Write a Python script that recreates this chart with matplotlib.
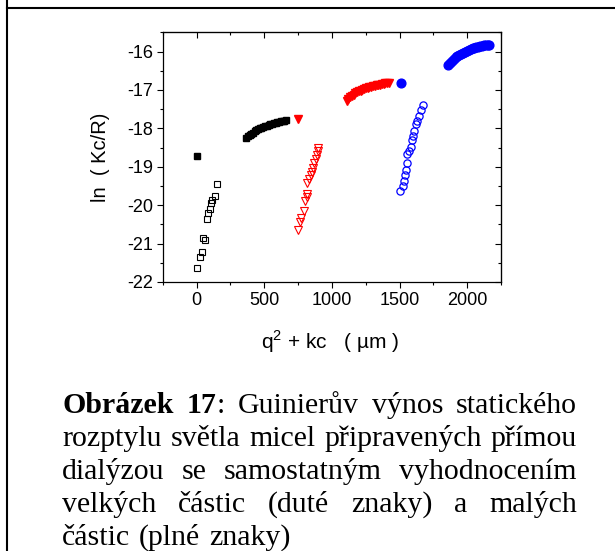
import matplotlib
matplotlib.use("Agg")
import matplotlib.pyplot as plt
from matplotlib.lines import Line2D
from matplotlib.ticker import MultipleLocator

plt.rcParams['axes.unicode_minus'] = False
plt.rcParams['font.family'] = 'Liberation Sans'

# velke castice (prazdne znaky)
big1_x = [0, 24, 42, 49, 64, 76, 86, 96, 108, 118, 138, 153]
big1_y = [-21.64, -21.36, -21.21, -20.86, -20.90, -20.36, -20.21, -20.10, -19.95, -19.86, -19.77, -19.46]
big2_x = [749, 764, 774, 791, 798, 813, 818, 820, 833, 845, 852, 862, 870, 880, 892, 897, 899]
big2_y = [-20.64, -20.43, -20.34, -20.15, -19.90, -19.79, -19.71, -19.42, -19.31, -19.21, -19.14,
          -19.03, -18.90, -18.81, -18.70, -18.60, -18.51]
big3_x = [1505, 1528, 1535, 1542, 1547, 1552, 1559, 1569, 1582, 1589, 1599, 1609, 1619, 1631,
          1643, 1656, 1673]
big3_y = [-19.62, -19.49, -19.38, -19.22, -19.08, -18.91, -18.67, -18.59, -18.49, -18.31, -18.20,
          -18.08, -17.90, -17.80, -17.67, -17.53, -17.40]

# male castice (plne znaky)
small1_x = [0, 367, 380, 392, 405, 418, 430, 442, 455, 468, 480, 493, 506, 519, 532, 545, 558,
            571, 584, 597, 610, 623, 636, 649, 658]
small1_y = [-18.71, -18.25, -18.21, -18.17, -18.14, -18.11, -18.08, -18.05, -18.03, -18.00, -17.98,
            -17.96, -17.94, -17.93, -17.91, -17.90, -17.88, -17.87, -17.86, -17.84, -17.83, -17.82,
            -17.81, -17.80, -17.79]
small2_x = [749, 1109, 1122, 1135, 1148, 1161, 1174, 1187, 1200, 1213, 1226, 1239, 1252, 1265,
            1278, 1291, 1304, 1317, 1330, 1343, 1356, 1369, 1382, 1395, 1408, 1421]
small2_y = [-17.75, -17.29, -17.24, -17.19, -17.15, -17.12, -17.09, -17.06, -17.04, -17.02, -17.00,
            -16.98, -16.96, -16.95, -16.93, -16.92, -16.90, -16.89, -16.88, -16.87, -16.86, -16.85,
            -16.84, -16.83, -16.82, -16.81]
small3_x = [1508, 1858, 1872, 1886, 1900, 1914, 1928, 1942, 1956, 1970, 1984, 1998, 2012, 2026,
            2040, 2054, 2068, 2082, 2096, 2110, 2124, 2138, 2152, 2165]
small3_y = [-16.83, -16.36, -16.30, -16.25, -16.20, -16.15, -16.12, -16.09, -16.06, -16.03, -16.00,
            -15.98, -15.96, -15.94, -15.92, -15.90, -15.88, -15.87, -15.86, -15.85, -15.84, -15.84,
            -15.83, -15.84]

x_ticks = [0, 500, 1000, 1500, 2000]
y_ticks = [-22, -21, -20, -19, -18, -17, -16]

caption = [
    "Obrázek 17: Guinierův výnos statického",
    "rozptylu světla micel připravených přímou",
    "dialýzou se samostatným vyhodnocením",
    "velkých částic (duté znaky) a malých",
    "částic (plné znaky)",
]

W, H = 615, 551
fig = plt.figure(figsize=(W / 100, H / 100), dpi=100)
ax = fig.add_axes([162.7 / W, 1 - 282 / H, (501 - 162.7) / W, (282 - 32.3) / H])

ax.plot(big1_x, big1_y, 's', ls='none', mfc='none', mec='black', ms=4.3, mew=0.8)
ax.plot(big2_x, big2_y, 'v', ls='none', mfc='none', mec='red', ms=5.5, mew=0.8)
ax.plot(big3_x, big3_y, 'o', ls='none', mfc='none', mec='blue', ms=5.2, mew=0.9)
ax.plot(small1_x, small1_y, 's', ls='none', color='black', ms=4.8)
ax.plot(small2_x, small2_y, 'v', ls='none', color='red', ms=6.2)
ax.plot(small3_x, small3_y, 'o', ls='none', color='blue', ms=6.3)

ax.set_xlim(-250, 2250)
ax.set_ylim(-22, -15.5)
ax.set_xticks(x_ticks)
ax.set_yticks(y_ticks)
ax.xaxis.set_minor_locator(MultipleLocator(250))
ax.yaxis.set_minor_locator(MultipleLocator(0.5))
ax.tick_params(which='both', direction='out', labelsize=13, width=0.8, pad=3,
               top=False, right=False)
ax.tick_params(which='major', length=4)
ax.tick_params(which='minor', length=2.2)
for s in ax.spines.values():
    s.set_linewidth(0.9)

# ticks dovnitr nahore a vpravo
top = ax.secondary_xaxis('top')
top.set_xticks(x_ticks)
top.xaxis.set_minor_locator(MultipleLocator(250))
top.tick_params(which='both', direction='in', labeltop=False, width=0.8)
top.tick_params(which='major', length=4)
top.tick_params(which='minor', length=2.2)
right = ax.secondary_yaxis('right')
right.set_yticks(y_ticks)
right.yaxis.set_minor_locator(MultipleLocator(0.5))
right.tick_params(which='both', direction='in', labelright=False, width=0.8)
right.tick_params(which='major', length=4)
right.tick_params(which='minor', length=2.2)

fig.text(330 / W, 1 - 342 / H, r"q$^{\mathregular{2}}$ + kc   ( µm )", fontsize=15,
         ha='center', va='center')
fig.text(101 / W, 1 - 157 / H, "ln  ( Kc/R)", fontsize=14.5, rotation=90,
         ha='center', va='center')

# ramecek tabulky
fig.add_artist(Line2D([6.5 / W, 6.5 / W], [0, 1], transform=fig.transFigure,
                      color='black', lw=1.5))
fig.add_artist(Line2D([6.5 / W, 1], [1 - 8 / H, 1 - 8 / H], transform=fig.transFigure,
                      color='black', lw=1.5))

# popisek do bloku
left_px, right_px = 62, 577
base_y = 413
line_h = 33
fsize = 21.5
renderer = fig.canvas.get_renderer()


def segments(word):
    if word == "Obrázek":
        return [(word, 'bold')]
    if word == "17:":
        return [("17", 'bold'), (":", 'normal')]
    return [(word, 'normal')]


for i, line in enumerate(caption):
    y = 1 - (base_y + i * line_h) / H
    words = []
    for w in line.split():
        parts = []
        for txt, wt in segments(w):
            t = fig.text(0, y, txt, fontsize=fsize, family='Liberation Serif',
                         fontweight=wt, va='baseline', ha='left')
            parts.append(t)
        words.append(parts)
    widths = []
    for parts in words:
        widths.append([p.get_window_extent(renderer).width for p in parts])
    total = sum(sum(w) for w in widths)
    if i < len(caption) - 1 and len(words) > 1:
        gap = (right_px - left_px - total) / (len(words) - 1)
    else:
        gap = fsize * 0.3 * 100 / 72
    x = left_px
    for parts, ws in zip(words, widths):
        for p, w in zip(parts, ws):
            p.set_x(x / W)
            x += w
        x += gap

fig.savefig("out.png", dpi=100)
